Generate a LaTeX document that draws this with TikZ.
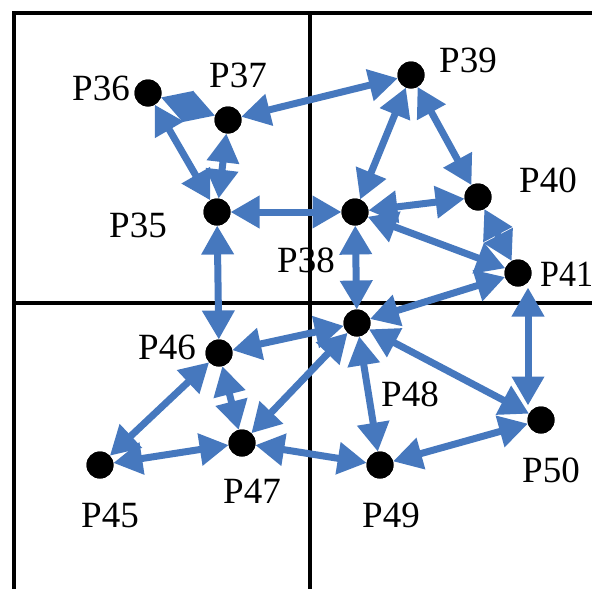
\documentclass[tikz,border=0pt]{standalone}
\usepackage{fontspec}
\setmainfont{Liberation Serif}
\usetikzlibrary{arrows.meta}
\definecolor{linkblue}{RGB}{70,120,190}
\tikzset{
  pt/.style={circle,fill=black,inner sep=0pt,outer sep=0pt,minimum size=27pt},
  lbl/.style={inner sep=0pt,font=\fontsize{37}{40}\selectfont},
  grid/.style={line width=4.5pt,black},
  link/.style={linkblue,line width=7pt,
    arrows={Triangle[length=29pt,width=31pt]-Triangle[length=29pt,width=31pt]}}
}
\begin{document}
\begin{tikzpicture}[x=1pt,y=-1pt]
\useasboundingbox (0,0) rectangle (592,589);
\begin{scope}
\clip (0,0) rectangle (592,589);
% labels
\node[lbl] (l36) at (101,88) {P36};
\node[lbl] (l37) at (238,75) {P37};
\node[lbl] (l35) at (138,225) {P35};
\node[lbl] (l39) at (468,60) {P39};
\node[lbl] (l40) at (548,180) {P40};
\node[lbl] (l38) at (306,260) {P38};
\node[lbl,anchor=west,xscale=0.92] (l41) at (540,274) {P41};
\node[lbl] (l46) at (167,347) {P46};
\node[lbl] (l47) at (252,491) {P47};
\node[lbl] (l45) at (110,515) {P45};
\node[lbl] (l48) at (410,394) {P48};
\node[lbl] (l49) at (391,515) {P49};
\node[lbl] (l50) at (551,470) {P50};
% quadrant grid
\coordinate (tl) at (14,13);
\coordinate (tr) at (592,13);
\coordinate (bl) at (14,589);
\coordinate (mt) at (310,13);
\coordinate (mb) at (310,589);
\coordinate (ml) at (14,303);
\coordinate (mr) at (592,303);
\draw[grid] (bl) -- (tl) -- (tr);
\draw[grid] (mt) -- (mb);
\draw[grid] (ml) -- (mr);
\end{scope}
% points
\node[pt] (p36) at (148,93) {};
\node[pt] (p37) at (228,120) {};
\node[pt] (p35) at (217,212) {};
\node[pt] (p39) at (411,75) {};
\node[pt] (p40) at (478,197) {};
\node[pt] (p38) at (355,212) {};
\node[pt] (p41) at (518,273) {};
\node[pt] (p46) at (219,353) {};
\node[pt] (p47) at (242,443) {};
\node[pt] (p45) at (100,465) {};
\node[pt] (p48) at (357,323) {};
\node[pt] (p49) at (380,465) {};
\node[pt] (p50) at (541,420) {};
% links
\foreach \a/\b in {p36/p37,p36/p35,p37/p35,p37/p39,p35/p38,p35/p46,
  p39/p38,p39/p40,p38/p40,p38/p41,p40/p41,p38/p48,p41/p48,
  p48/p46,p48/p47,p48/p49,p48/p50,p46/p45,p46/p47,p45/p47,p47/p49,p49/p50}
  \draw[link] (\a) -- (\b);
% the P41--P50 link runs straight down, off the centres
\coordinate (a41) at ([xshift=10pt,yshift=-1pt]p41.south);
\coordinate (a50) at ([xshift=-13pt,yshift=1pt]p50.north);
\draw[link] (a41) -- (a41 |- a50);
% redraw points on top of the links
\foreach \p in {p36,p37,p35,p39,p40,p38,p41,p46,p47,p45,p48,p49,p50}
  \fill (\p) circle (13.5pt);
\end{tikzpicture}
\end{document}
